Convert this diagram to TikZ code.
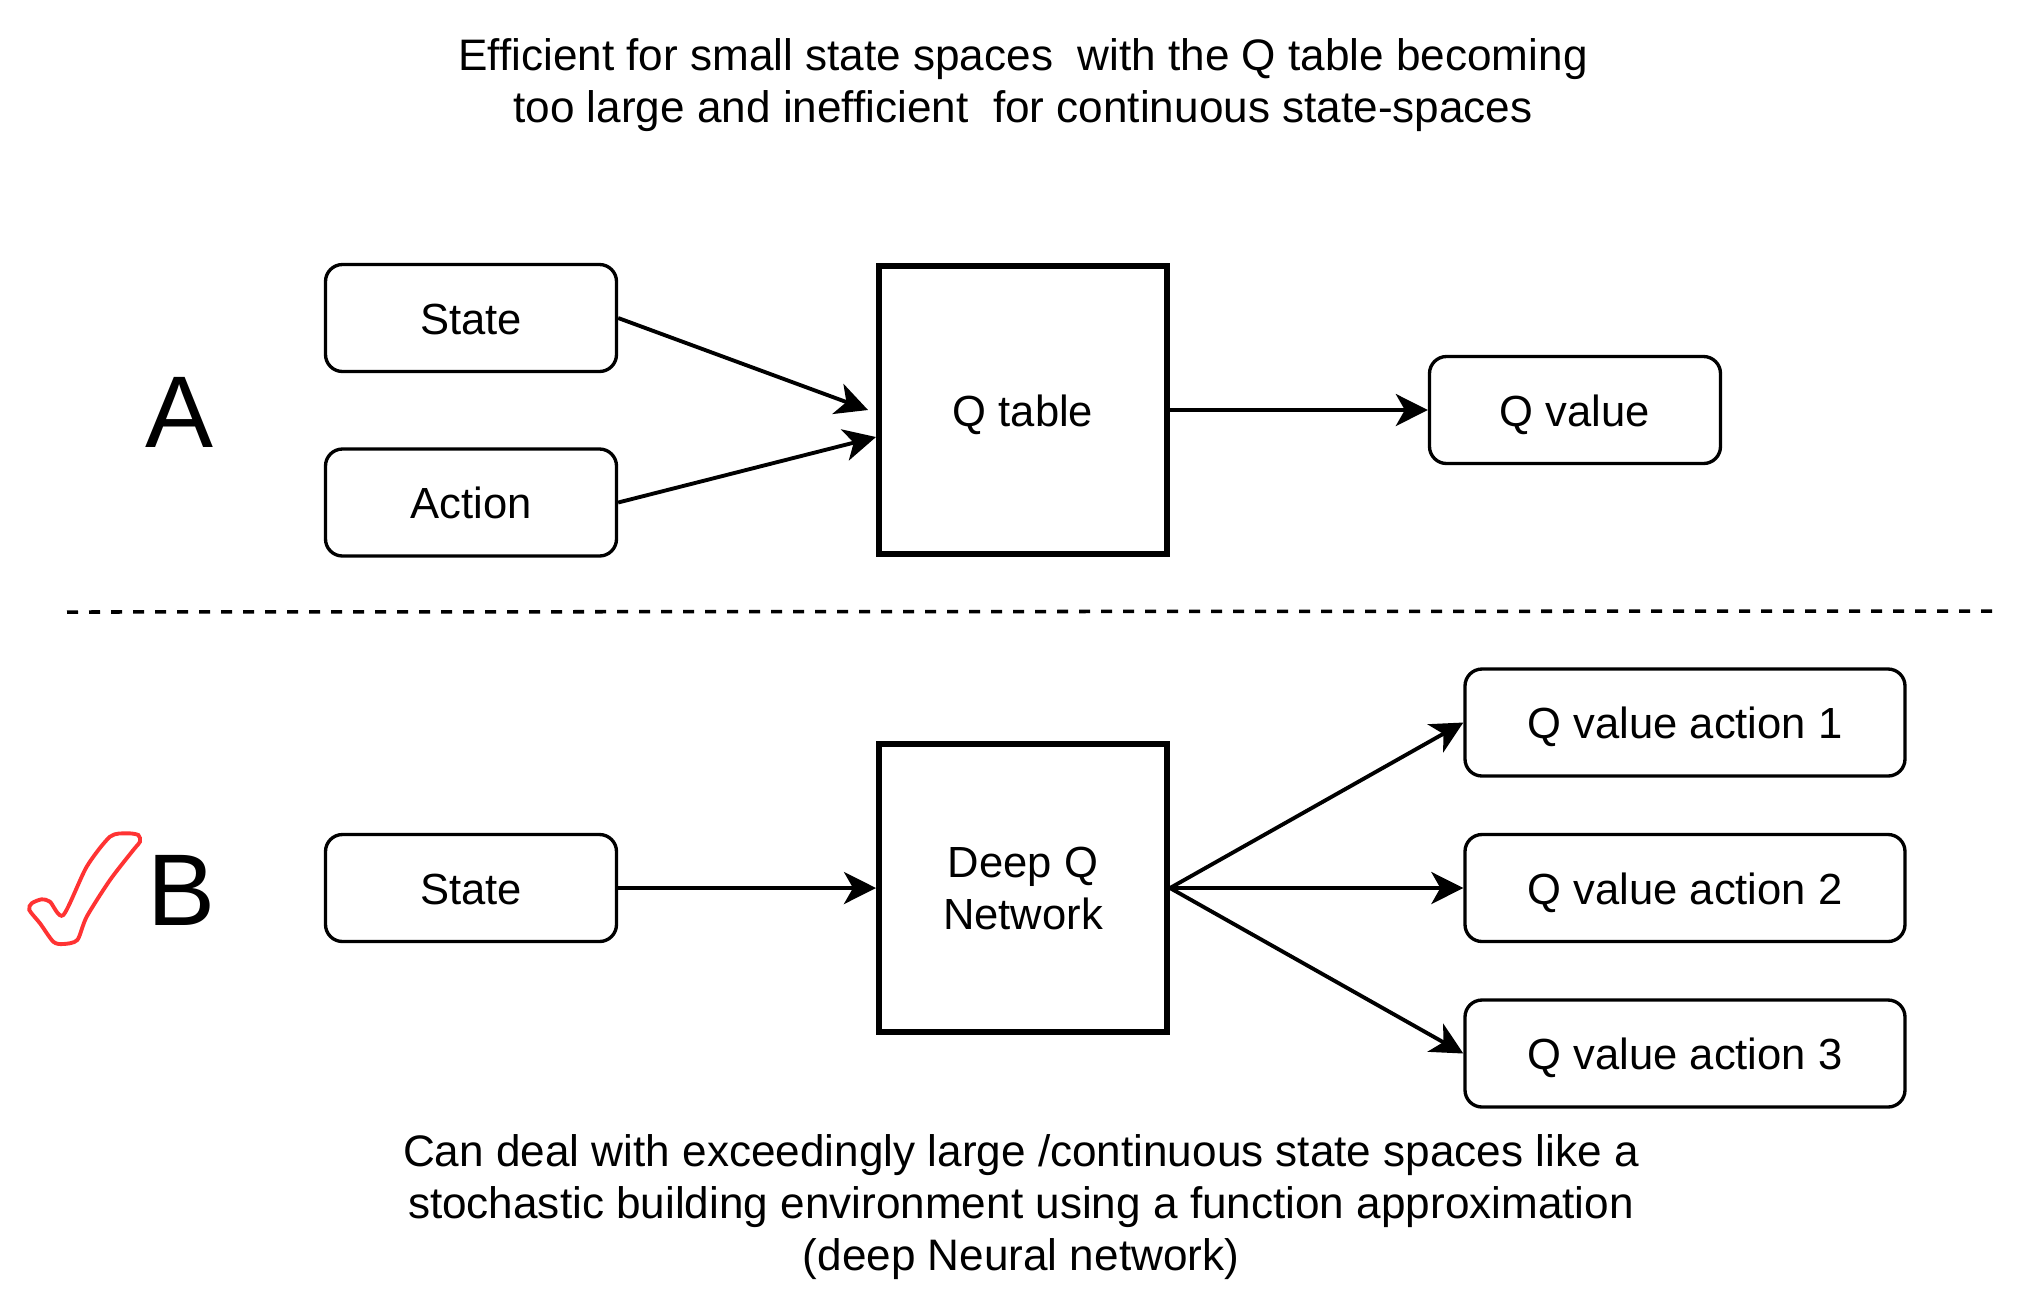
\documentclass[tikz,border=0pt]{standalone}
\usepackage{fontspec}
\setmainfont{Liberation Sans}
\usepackage{tikz}
\usetikzlibrary{shapes.geometric, arrows.meta, positioning}
\definecolor{checkred}{RGB}{255,51,51}
\tikzstyle{box} = [rectangle, rounded corners=0.17cm, draw, line width=0.95pt, text centered, minimum width=2.91cm, minimum height=1.07cm, text height=9.1pt, text depth=0pt, font=\fontsize{12.4pt}{14.8pt}\selectfont]
\tikzstyle{widebox} = [box, minimum width=4.40cm]
\tikzstyle{bigbox} = [rectangle, draw, line width=1.7pt, align=center, minimum width=2.88cm, minimum height=2.88cm, font=\fontsize{12.4pt}{14.8pt}\selectfont]
\tikzstyle{note} = [align=center, font=\fontsize{12.55pt}{14.7pt}\selectfont]
\tikzstyle{letter} = [font=\fontsize{29pt}{29pt}\selectfont, inner sep=0pt]
\tikzstyle{arrow} = [line width=1.1pt,->,>={Stealth[length=0.32cm,width=0.32cm,inset=0.09cm]}]
\tikzstyle{sepline} = [line width=1pt, dash pattern=on 0.11cm off 0.11cm]

\begin{document}
\begin{tikzpicture}[node distance=5.52cm]
\useasboundingbox (0,0) rectangle (20.23,-12.89);

% Captions
\node (toptext) [note] at (10.23,-0.85) {Efficient for small state spaces\ \ with the Q table becoming\\too large and inefficient\ \ for continuous state-spaces};
\node (bottomtext) [note] at (10.21,-12.07) {Can deal with exceedingly large /continuous state spaces like a\\stochastic building environment using a function approximation\\(deep Neural network)};

% Part A: Q table
\node (qtable) [bigbox, text height=9.1pt, text depth=0pt] at (10.23,-4.10) {Q table};
\node (stateA) [box, left of=qtable, yshift=0.92cm] {State};
\node (action) [box, left of=qtable, yshift=-0.925cm] {Action};
\node (qvalue) [box, right of=qtable] {Q value};
\node (labelA) [letter] at (1.79,-4.12) {A};

% Separator
\coordinate (sepL) at (0.67,-6.12);
\coordinate (sepR) at (19.98,-6.11);
\draw[sepline] (sepL) -- (sepR);

% Part B: Deep Q Network
\node (dqn) [bigbox, below of=qtable, yshift=0.74cm] {Deep Q\\Network};
\node (stateB) [box, left of=dqn] {State};
\node (act2) [widebox, right of=dqn, xshift=1.1cm] {Q value action 2};
\node (act1) [widebox, right of=dqn, xshift=1.1cm, yshift=1.655cm] {Q value action 1};
\node (act3) [widebox, right of=dqn, xshift=1.1cm, yshift=-1.655cm] {Q value action 3};
\node (labelB) [letter] at (1.81,-8.90) {B};

% Check mark
\draw[checkred, line width=1.1pt] plot[smooth cycle, tension=0.45] coordinates {(0.293,-9.10) (0.317,-9.033) (0.417,-8.993) (0.50,-9.017) (0.633,-9.15) (0.867,-8.667) (1.10,-8.367) (1.267,-8.333) (1.383,-8.35) (1.40,-8.417) (1.333,-8.50) (1.10,-8.80) (0.867,-9.167) (0.773,-9.40) (0.633,-9.44) (0.533,-9.417) (0.40,-9.233)};

% Arrows
\draw[arrow] (stateA.east) -- ([xshift=-0.08cm]qtable.west);
\draw[arrow] (action.east) -- ([yshift=-0.27cm]qtable.west);
\draw[arrow] (qtable) -- (qvalue);
\draw[arrow] (stateB) -- (dqn);
\draw[arrow] (dqn.east) -- (act1.west);
\draw[arrow] (dqn.east) -- (act2.west);
\draw[arrow] (dqn.east) -- (act3.west);

\end{tikzpicture}
\end{document}
